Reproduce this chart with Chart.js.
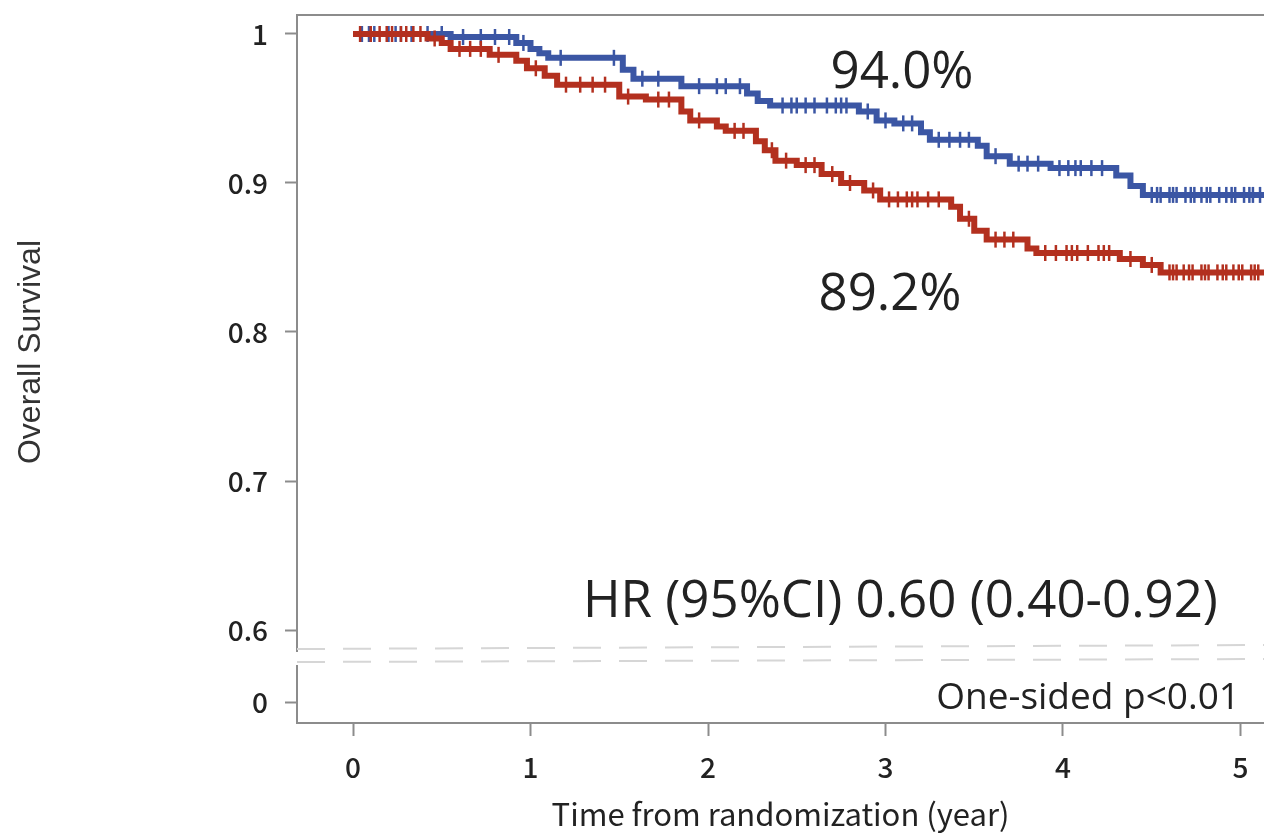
<!DOCTYPE html>
<html>
<head>
<meta charset="utf-8">
<script src="https://cdn.jsdelivr.net/npm/chart.js@4.4.1/dist/chart.umd.min.js"></script>
<style>
  html, body { margin: 0; padding: 0; background: #fff; }
  #wrap { width: 1264px; height: 836px; }
</style>
</head>
<body>
<div id="wrap"><canvas id="km" width="1264" height="836"></canvas></div>
<script>
// axis ticks
const xTicks = [0, 1, 2, 3, 4, 5];
const xTickLabels = ['0', '1', '2', '3', '4', '5'];
const yTicks = [0.6, 0.7, 0.8, 0.9, 1];
const yTickLabels = ['0.6', '0.7', '0.8', '0.9', '1'];
const yLowTicks = [0];
const yLowTickLabels = ['0'];

// KM rows: [time (year), survival, censored]
const controlRows = [
  [0, 1, 0], [0.04, 1, 1], [0.1, 1, 1], [0.15, 1, 1], [0.19, 1, 1], [0.22, 1, 1], [0.27, 1, 1], [0.3, 1, 1], [0.34, 1, 1], [0.38, 1, 1],
  [0.42, 0.997, 0], [0.46, 0.997, 1], [0.5, 0.994, 0], [0.55, 0.99, 0], [0.6, 0.99, 1], [0.66, 0.99, 1], [0.72, 0.99, 1],
  [0.77, 0.986, 0], [0.82, 0.986, 1], [0.92, 0.982, 0], [0.98, 0.977, 0], [1.03, 0.977, 1], [1.08, 0.972, 0],
  [1.15, 0.966, 0], [1.2, 0.966, 1], [1.28, 0.966, 1], [1.35, 0.966, 1], [1.42, 0.966, 1],
  [1.5, 0.958, 0], [1.55, 0.958, 1], [1.65, 0.956, 0], [1.72, 0.956, 1], [1.78, 0.956, 1],
  [1.85, 0.948, 0], [1.9, 0.942, 0], [1.95, 0.942, 1], [2.05, 0.938, 0], [2.1, 0.935, 0], [2.15, 0.935, 1], [2.2, 0.935, 1],
  [2.27, 0.928, 0], [2.32, 0.922, 0], [2.36, 0.922, 1], [2.38, 0.915, 0], [2.44, 0.915, 1], [2.5, 0.912, 0], [2.55, 0.912, 1], [2.6, 0.912, 1],
  [2.64, 0.906, 0], [2.7, 0.906, 1], [2.75, 0.9, 0], [2.8, 0.9, 1], [2.88, 0.895, 0], [2.93, 0.895, 1], [2.97, 0.889, 0],
  [3.02, 0.889, 1], [3.07, 0.889, 1], [3.12, 0.889, 1], [3.15, 0.889, 1], [3.18, 0.889, 1], [3.24, 0.889, 1], [3.3, 0.889, 1],
  [3.37, 0.884, 0], [3.42, 0.876, 0], [3.47, 0.876, 1], [3.5, 0.868, 0], [3.57, 0.862, 0], [3.62, 0.862, 1], [3.67, 0.862, 1], [3.72, 0.862, 1],
  [3.8, 0.856, 0], [3.85, 0.853, 0], [3.9, 0.853, 1], [3.96, 0.853, 1], [4.02, 0.853, 1], [4.05, 0.853, 1], [4.08, 0.853, 1], [4.14, 0.853, 1],
  [4.2, 0.853, 1], [4.23, 0.853, 1], [4.26, 0.853, 1],
  [4.32, 0.849, 0], [4.38, 0.849, 1], [4.45, 0.845, 0], [4.5, 0.845, 1], [4.55, 0.84, 0], [4.6, 0.84, 1], [4.62, 0.84, 1], [4.64, 0.84, 1], [4.68, 0.84, 1],
  [4.71, 0.84, 1], [4.73, 0.84, 1], [4.78, 0.84, 1], [4.8, 0.84, 1], [4.82, 0.84, 1], [4.87, 0.84, 1], [4.9, 0.84, 1], [4.92, 0.84, 1], [4.96, 0.84, 1],
  [4.99, 0.84, 1], [5.01, 0.84, 1], [5.06, 0.84, 1], [5.08, 0.84, 1], [5.1, 0.84, 1], [5.2, 0.84, 0]
];

const treatmentRows = [
  [0, 1, 0], [0.05, 1, 1], [0.09, 1, 1], [0.12, 1, 1], [0.2, 1, 1], [0.24, 1, 1], [0.27, 1, 1], [0.33, 1, 1], [0.42, 1, 1], [0.5, 1, 1],
  [0.55, 0.998, 0], [0.62, 0.998, 1], [0.72, 0.998, 1], [0.8, 0.998, 1], [0.88, 0.998, 1],
  [0.92, 0.994, 0], [0.96, 0.994, 1], [1.0, 0.99, 0], [1.05, 0.987, 0], [1.1, 0.984, 0], [1.17, 0.984, 1], [1.47, 0.984, 1],
  [1.52, 0.976, 0], [1.58, 0.97, 0], [1.63, 0.97, 1], [1.72, 0.97, 1],
  [1.85, 0.965, 0], [1.95, 0.965, 1], [2.05, 0.965, 1], [2.1, 0.965, 1], [2.18, 0.965, 1],
  [2.22, 0.96, 0], [2.28, 0.955, 0], [2.35, 0.952, 0], [2.42, 0.952, 1], [2.47, 0.952, 1], [2.5, 0.952, 1], [2.55, 0.952, 1], [2.6, 0.952, 1],
  [2.67, 0.952, 1], [2.72, 0.952, 1], [2.75, 0.952, 1], [2.78, 0.952, 1],
  [2.85, 0.948, 0], [2.9, 0.948, 1], [2.95, 0.942, 0], [3.0, 0.942, 1], [3.05, 0.94, 0], [3.1, 0.94, 1], [3.15, 0.94, 1],
  [3.2, 0.934, 0], [3.25, 0.929, 0], [3.3, 0.929, 1], [3.36, 0.929, 1], [3.42, 0.929, 1], [3.47, 0.929, 1],
  [3.52, 0.925, 0], [3.57, 0.918, 0], [3.62, 0.918, 1], [3.7, 0.913, 0], [3.75, 0.913, 1], [3.8, 0.913, 1], [3.86, 0.913, 1],
  [3.93, 0.91, 0], [3.98, 0.91, 1], [4.03, 0.91, 1], [4.07, 0.91, 1], [4.1, 0.91, 1], [4.16, 0.91, 1], [4.22, 0.91, 1],
  [4.3, 0.905, 0], [4.38, 0.898, 0], [4.45, 0.892, 0], [4.5, 0.892, 1], [4.53, 0.892, 1], [4.55, 0.892, 1], [4.6, 0.892, 1], [4.62, 0.892, 1], [4.64, 0.892, 1],
  [4.69, 0.892, 1], [4.72, 0.892, 1], [4.74, 0.892, 1], [4.78, 0.892, 1], [4.81, 0.892, 1], [4.83, 0.892, 1], [4.88, 0.892, 1], [4.92, 0.892, 1],
  [4.95, 0.892, 1], [4.97, 0.892, 1], [5.02, 0.892, 1], [5.05, 0.892, 1], [5.07, 0.892, 1], [5.11, 0.892, 1], [5.2, 0.892, 0]
];

const RED = '#b3301f';
const BLUE = '#3b56a4';
const AXIS = '#8c8c8c';
const TEXT = '#222';
const tickFont = { family: "'Noto Sans CJK JP', 'DejaVu Sans', sans-serif", size: 28, weight: 500 };

const toPoints = rows => rows.map(r => ({ x: r[0], y: r[1], c: r[2] }));

function kmDataset(label, rows, color) {
  return {
    label: label,
    data: toPoints(rows),
    yAxisID: 'y',
    borderColor: color,
    borderWidth: 6,
    stepped: 'before',
    fill: false,
    pointStyle: 'line',
    pointRotation: 90,
    pointRadius: ctx => (ctx.raw && ctx.raw.c ? 8 : 0),
    pointHoverRadius: 0,
    pointBorderWidth: 2.5,
    pointBorderColor: color,
    pointBackgroundColor: color
  };
}

function fixedTicks(values) {
  return scale => { scale.ticks = values.map(v => ({ value: v })); };
}

function noPadding(scale) {
  scale.paddingTop = 0;
  scale.paddingBottom = 0;
  scale.paddingLeft = 0;
  scale.paddingRight = 0;
}

const breakPlugin = {
  id: 'decor',
  afterDraw(chart) {
    const { ctx, chartArea } = chart;
    const L = chartArea.left, R = chartArea.right, T = chartArea.top;
    ctx.save();
    // top frame line
    ctx.strokeStyle = AXIS;
    ctx.lineWidth = 2;
    ctx.beginPath();
    ctx.moveTo(L - 1, T);
    ctx.lineTo(R, T);
    ctx.stroke();
    // axis break
    ctx.fillStyle = '#fff';
    ctx.fillRect(L - 4, 652, 8, 13);
    ctx.strokeStyle = '#d6d6d6';
    ctx.lineWidth = 2;
    ctx.setLineDash([28, 18]);
    ctx.beginPath();
    ctx.moveTo(L, 649); ctx.lineTo(R, 645);
    ctx.moveTo(L, 662); ctx.lineTo(R, 659);
    ctx.stroke();
    ctx.setLineDash([]);
    // annotations
    ctx.fillStyle = TEXT;
    ctx.textBaseline = 'alphabetic';
    ctx.font = "51px 'Open Sans', sans-serif";
    ctx.textAlign = 'center';
    ctx.fillText('94.0%', 902, 88);
    ctx.fillText('89.2%', 890, 310);
    ctx.textAlign = 'left';
    ctx.fillText('HR (95%CI) 0.60 (0.40-0.92)', 583, 617);
    ctx.font = "37px 'Open Sans', sans-serif";
    ctx.textAlign = 'right';
    ctx.fillText('One-sided p<0.01', 1240, 709);
    // y axis title
    ctx.translate(40, 352);
    ctx.rotate(-Math.PI / 2);
    ctx.font = "32px 'Liberation Sans', Arial, sans-serif";
    ctx.textAlign = 'center';
    ctx.fillStyle = '#333';
    ctx.fillText('Overall Survival', 0, 0);
    ctx.restore();
  }
};

const yCommon = {
  type: 'linear',
  position: 'left',
  stack: 'survival',
  afterFit: scale => { scale.width = 297; noPadding(scale); },
  grid: { drawOnChartArea: false, tickLength: 12, tickColor: AXIS, tickWidth: 2 },
  border: { color: AXIS, width: 2 }
};

new Chart(document.getElementById('km'), {
  type: 'line',
  data: {
    datasets: [
      kmDataset('Control', controlRows, RED),
      kmDataset('Treatment', treatmentRows, BLUE)
    ]
  },
  options: {
    responsive: false,
    animation: false,
    devicePixelRatio: 1,
    layout: { padding: { top: 15, left: 0, right: 0, bottom: 0 } },
    plugins: { legend: { display: false }, tooltip: { enabled: false } },
    scales: {
      x: {
        type: 'linear',
        min: -0.3155,
        max: 5.1324,
        afterBuildTicks: fixedTicks(xTicks),
        afterFit: scale => { scale.height = 113; noPadding(scale); },
        ticks: { callback: (v, i) => xTickLabels[i], font: tickFont, color: TEXT, padding: 15, maxRotation: 0 },
        grid: { drawOnChartArea: false, tickLength: 13, tickColor: AXIS, tickWidth: 2 },
        border: { color: AXIS, width: 2 },
        title: {
          display: true,
          text: 'Time from randomization (year)',
          font: { family: "'Noto Sans CJK JP', sans-serif", size: 31 },
          color: TEXT,
          padding: { top: 0, bottom: 3 }
        }
      },
      y0: Object.assign({}, yCommon, {
        stackWeight: 66,
        min: -21,
        max: 45,
        afterBuildTicks: fixedTicks(yLowTicks),
        ticks: { callback: (v, i) => yLowTickLabels[i], font: tickFont, color: TEXT, padding: 17 }
      }),
      y: Object.assign({}, yCommon, {
        stackWeight: 642,
        min: 0.58188,
        max: 1.01275,
        afterBuildTicks: fixedTicks(yTicks),
        ticks: { callback: (v, i) => yTickLabels[i], font: tickFont, color: TEXT, padding: 17 }
      })
    }
  },
  plugins: [breakPlugin]
});
</script>
</body>
</html>
